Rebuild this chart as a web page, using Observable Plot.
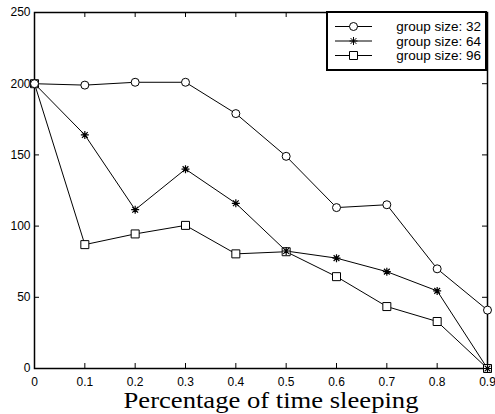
<!DOCTYPE html>
<html><head><meta charset="utf-8">
<script src="https://cdn.jsdelivr.net/npm/d3@7"></script>
<script src="https://cdn.jsdelivr.net/npm/@observablehq/plot@0.6"></script>
<style>body{margin:0;background:#fff}</style>
</head><body><div id="chart"></div>
<script>
const xValues = [0, 0.1, 0.2, 0.3, 0.4, 0.5, 0.6, 0.7, 0.8, 0.9];
const xTickLabels = ["0", "0.1", "0.2", "0.3", "0.4", "0.5", "0.6", "0.7", "0.8", "0.9"];
const yTicks = [0, 50, 100, 150, 200, 250];
const seriesNames = ["group size: 32", "group size: 64", "group size: 96"];
const size32 = [200, 199, 201, 201, 179, 149, 113, 115, 70, 41];
const size64 = [200, 164, 111.5, 140, 116, 82.5, 77.5, 68, 54.5, 0];
const size96 = [200, 87, 94.5, 100.5, 80.5, 82, 64.5, 43.5, 33, 0];
const xLabel = "Percentage of time sleeping";

const circleSym = {draw(ctx, size) { const r = Math.sqrt(size / Math.PI); ctx.moveTo(r, 0); ctx.arc(0, 0, r, 0, 2 * Math.PI); }};
const squareSym = {draw(ctx, size) { const r = Math.sqrt(size / Math.PI); ctx.rect(-r, -r, 2 * r, 2 * r); }};
const starSym = {draw(ctx, size) {
  const r = Math.sqrt(size / Math.PI), d = r * 0.72;
  ctx.moveTo(-r, 0); ctx.lineTo(r, 0);
  ctx.moveTo(0, -r); ctx.lineTo(0, r);
  ctx.moveTo(-d, -d); ctx.lineTo(d, d);
  ctx.moveTo(-d, d); ctx.lineTo(d, -d);
}};

const seriesValues = [size32, size64, size96];
const symbols = [circleSym, starSym, squareSym];
const fills = ["white", "none", "white"];
const data = seriesValues.flatMap((vals, s) => vals.map((v, i) => ({series: seriesNames[s], x: xValues[i], y: v})));
const bySeries = name => data.filter(d => d.series === name);

const W = 495, H = 414, mt = 12, mb = 46, ml = 34, mr = 8;
const innerH = H - mt - mb, innerW = W - ml - mr;

const chart = Plot.plot({
  width: W, height: H,
  marginTop: mt, marginBottom: mb, marginLeft: ml, marginRight: mr,
  style: {fontFamily: "'Liberation Sans', Arial, sans-serif", fontSize: "12px", color: "black", background: "white"},
  x: {domain: [0, 0.9]},
  y: {domain: [0, 250]},
  marks: [
    Plot.axisX(xValues, {tickSize: 0, tickPadding: 9, tickFormat: d => xTickLabels[xValues.indexOf(d)], label: null}),
    Plot.axisY(yTicks, {tickSize: 0, tickPadding: 4, label: null}),
    Plot.tickX(xValues.slice(1, -1), {x: d => d, insetTop: innerH - 5, stroke: "black"}),
    Plot.tickX(xValues.slice(1, -1), {x: d => d, insetBottom: innerH - 5, stroke: "black"}),
    Plot.tickY(yTicks.slice(1, -1), {y: d => d, insetRight: innerW - 5, stroke: "black"}),
    Plot.tickY(yTicks.slice(1, -1), {y: d => d, insetLeft: innerW - 5, stroke: "black"}),
    Plot.frame({stroke: "black", strokeWidth: 1.5}),
    Plot.line(data, {x: "x", y: "y", z: "series", stroke: "black", strokeWidth: 1}),
    Plot.dot(bySeries(seriesNames[2]), {x: "x", y: "y", r: 4, symbol: symbols[2], fill: fills[2], stroke: "black", strokeWidth: 1}),
    Plot.dot(bySeries(seriesNames[1]), {x: "x", y: "y", r: 4, symbol: symbols[1], fill: fills[1], stroke: "black", strokeWidth: 1.2}),
    Plot.dot(bySeries(seriesNames[0]), {x: "x", y: "y", r: 4, symbol: symbols[0], fill: fills[0], stroke: "black", strokeWidth: 1}),
    Plot.text([xLabel], {text: d => d, frameAnchor: "bottom", lineAnchor: "bottom", dx: 10, dy: 39.5,
      fontFamily: "'Liberation Serif', 'Times New Roman', serif", fontSize: 23, fill: "black", className: "xlab"})
  ]
});
document.getElementById("chart").appendChild(chart);

// stretch x label to match reference width
const lab = chart.querySelector(".xlab text");
if (lab) { lab.setAttribute("textLength", 295); lab.setAttribute("lengthAdjust", "spacingAndGlyphs"); }

// legend
const svg = d3.select(chart);
const lg = svg.append("g");
const bx0 = 327, bx1 = 486, by0 = 12, by1 = 70;
lg.append("rect").attr("x", bx0).attr("y", by0).attr("width", bx1 - bx0).attr("height", by1 - by0)
  .attr("fill", "white").attr("stroke", "black").attr("stroke-width", 2);
const rowY = [26.5, 41, 55.5];
seriesNames.forEach((name, i) => {
  const y = rowY[i];
  lg.append("line").attr("x1", 335).attr("x2", 372).attr("y1", y).attr("y2", y).attr("stroke", "black");
  lg.append("path").attr("d", d3.symbol(symbols[i], Math.PI * 16)()).attr("transform", `translate(353.5,${y})`)
    .attr("fill", fills[i]).attr("stroke", "black");
  lg.append("text").attr("x", 481).attr("y", y).attr("dy", "0.35em").attr("text-anchor", "end")
    .attr("font-family", "'Liberation Sans', Arial, sans-serif").attr("font-size", 13.5).attr("fill", "black").text(name);
});
</script>
</body></html>
